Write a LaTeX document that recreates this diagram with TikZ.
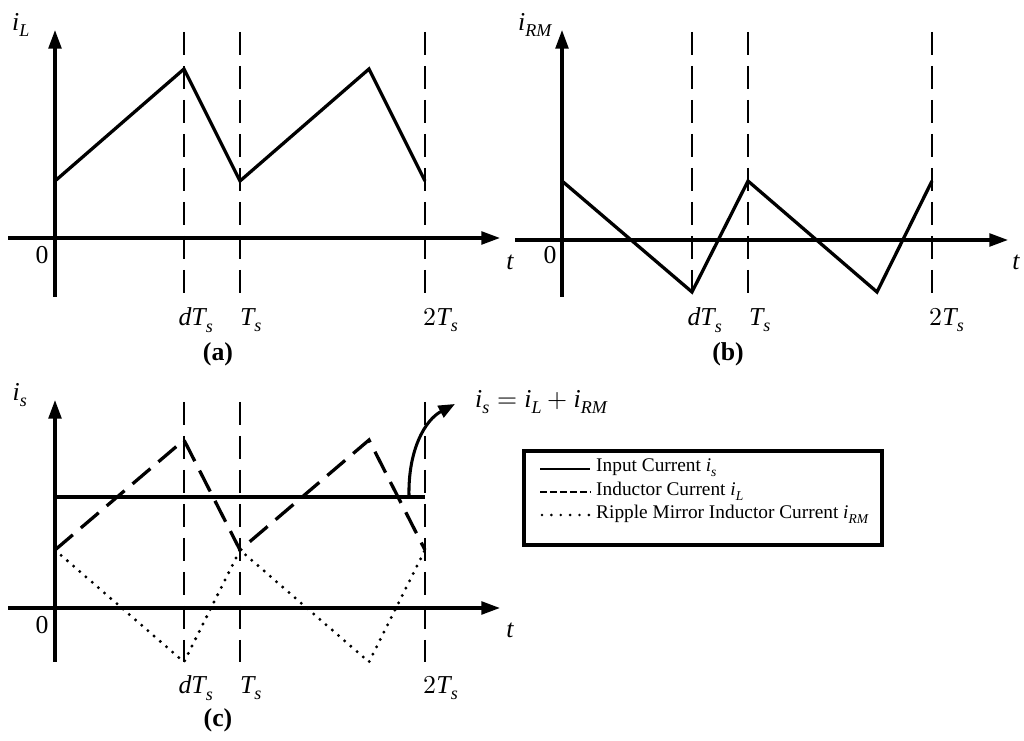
\documentclass[tikz,border=0pt]{standalone}
\usepackage{fontspec}
\setmainfont{Liberation Serif}
\usepackage{unicode-math}
\setmathfont{Latin Modern Math}
\setmathfont[range={it/{latin,Latin}}]{Liberation Serif Italic}
\usetikzlibrary{arrows.meta}
\begin{document}
\begin{tikzpicture}[x=0.03cm,y=-0.03cm,
  ax/.style={line width=2.6pt,-{Triangle[length=16pt,width=11pt]}},
  wave/.style={line width=2.8pt,line join=miter},
  vd/.style={line width=2.5pt,dash pattern=on 20pt off 9pt},
  lb/.style={font=\fontsize{22}{25}\selectfont,inner sep=0pt},
  pcap/.style={font=\fontsize{22}{25}\selectfont\bfseries,inner sep=0pt},
  lg/.style={font=\fontsize{16.5}{18}\selectfont,inner sep=0pt,anchor=west}]
\useasboundingbox (0,0) rectangle (1024,741);
% ---------- (a)
\draw[ax] (55,297) -- (55,30);
\draw[ax] (8,238) -- (500,238);
\foreach \x in {184,240,425} \draw[vd] (\x,32) -- (\x,297);
\draw[wave] (55,181) -- (184,69) -- (240,181) -- (369,69) -- (425,181);
\node[lb] (ail) at (21,25) {$i_L$};
\node[lb] (a0) at (42,255) {0};
\node[lb] (at) at (510,262) {$t$};
\node[lb] (adt) at (196,320) {$dT_s$};
\node[lb] (ats) at (251,320) {$T_s$};
\node[lb] (a2ts) at (441,320) {$2T_s$};
\node[pcap] (ca) at (218,354) {(a)};
% ---------- (b)
\draw[ax] (562,297) -- (562,30);
\draw[ax] (515,240) -- (1008,240);
\foreach \x in {692,748,932} \draw[vd] (\x,32) -- (\x,297);
\draw[wave] (562,181) -- (692,292) -- (748,181) -- (877,292) -- (932,181);
\node[lb] (bil) at (535,25) {$i_{RM}$};
\node[lb] (b0) at (550,255) {0};
\node[lb] (bt) at (1016,262) {$t$};
\node[lb] (bdt) at (705,320) {$dT_s$};
\node[lb] (bts) at (760,320) {$T_s$};
\node[lb] (b2ts) at (947,320) {$2T_s$};
\node[pcap] (cb) at (728,354) {(b)};
% ---------- (c)
\draw[ax] (55,662) -- (55,400);
\draw[ax] (8,608) -- (500,608);
\foreach \x in {184,240,425} \draw[vd] (\x,402) -- (\x,662);
\draw[wave] (55,497) -- (425,497);
\draw[line width=2.8pt,dash pattern=on 20pt off 9pt] (55,550) -- (184,440) -- (240,550) -- (369,440) -- (425,550);
\draw[line width=2.8pt,dash pattern=on 0pt off 7pt,line cap=round] (55,550) -- (184,662) -- (240,550) -- (369,662) -- (425,550);
\node[lb] (cil) at (20,395) {$i_s$};
\node[lb] (c0) at (42,625) {0};
\node[lb] (ct) at (510,630) {$t$};
\node[lb] (cdt) at (196,688) {$dT_s$};
\node[lb] (cts) at (251,688) {$T_s$};
\node[lb] (c2ts) at (441,688) {$2T_s$};
\node[pcap] (cc) at (218,720) {(c)};
\node[lb,anchor=west] (eq) at (475,402) {$i_s=i_L+i_{RM}$};
\coordinate (ast) at (409,496);
\draw[line width=2.6pt,-{Triangle[length=14pt,width=11pt]}] (ast) .. controls (408,450) and (425,420) .. (455,404);
% legend
\draw[line width=2.6pt] (524,451) rectangle (882,545);
\draw[line width=2.5pt] (540,469) -- (590,469);
\draw[line width=2.5pt,dash pattern=on 6pt off 2.5pt] (540,492) -- (590,492);
\draw[line width=2.5pt,dash pattern=on 0pt off 8pt,line cap=round] (542,515) -- (592,515);
\node[lg] (l1) at (596,468) {Input Current $i_s$};
\node[lg] (l2) at (596,491) {Inductor Current $i_L$};
\node[lg] (l3) at (596,514) {Ripple Mirror Inductor Current $i_{RM}$};
\end{tikzpicture}
\end{document}
